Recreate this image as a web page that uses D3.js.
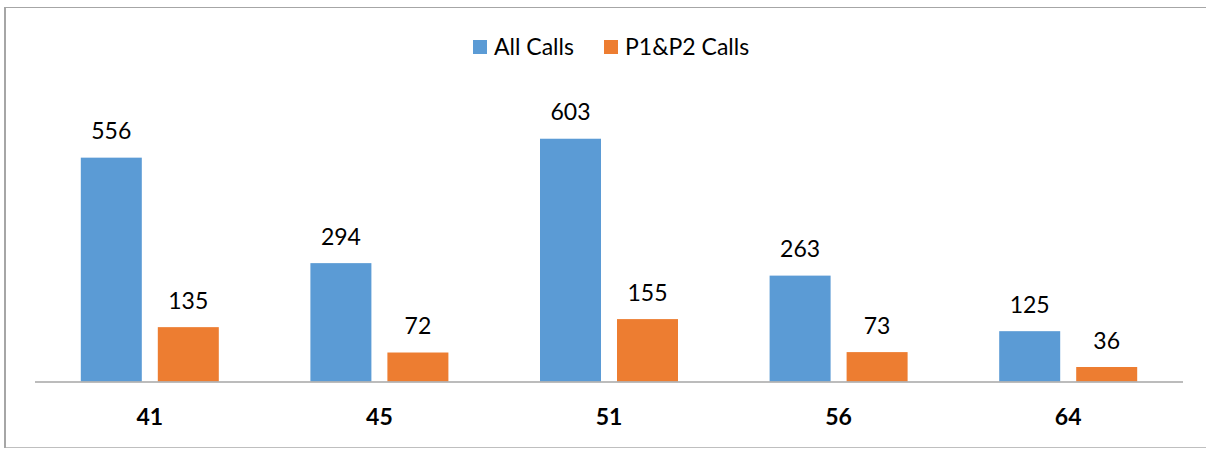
<!DOCTYPE html>
<html>
<head>
<meta charset="utf-8">
<script src="https://cdn.jsdelivr.net/npm/d3@7"></script>
<style>
  body { margin: 0; background: #fff; }
  text { font-family: Lato, "Open Sans", sans-serif; fill: #000; }
</style>
</head>
<body>
<svg id="canvas" width="1206" height="449"></svg>
<script>
// chart values
var categories = ["41", "45", "51", "56", "64"];
var seriesNames = ["All Calls", "P1&P2 Calls"];
var allCalls = [556, 294, 603, 263, 125];
var p1p2Calls = [135, 72, 155, 73, 36];
var colors = ["#5b9bd5", "#ed7d31"];

var svg = d3.select("#canvas");

// frame (right edge falls off the picture)
svg.append("line").attr("x1", 4).attr("x2", 1206).attr("y1", 7.5).attr("y2", 7.5)
  .attr("stroke", "#a6a6a6").attr("stroke-width", 1);
svg.append("line").attr("x1", 4).attr("x2", 1206).attr("y1", 447.5).attr("y2", 447.5)
  .attr("stroke", "#bfbfbf").attr("stroke-width", 1);
svg.append("line").attr("x1", 5).attr("x2", 5).attr("y1", 7).attr("y2", 448)
  .attr("stroke", "#a6a6a6").attr("stroke-width", 2);

var baseY = 381.5;
var x0 = d3.scaleBand().domain(categories).range([35, 1183]).paddingInner(0).paddingOuter(0);
var x1 = d3.scaleBand().domain(seriesNames).range([45.8, 45.8 + 138]).paddingInner(16 / 138 * 2 / (1 + 16 / 138)).paddingOuter(0);
var y = d3.scaleLinear().domain([0, 100]).range([baseY, baseY - 40.26]);

var rows = categories.map(function(c, i) {
  return { cat: c, vals: [allCalls[i], p1p2Calls[i]] };
});

var g = svg.selectAll(".grp").data(rows).enter().append("g")
  .attr("transform", function(d) { return "translate(" + x0(d.cat) + ",0)"; });

g.selectAll("rect").data(function(d) { return d.vals; }).enter().append("rect")
  .attr("x", function(d, i) { return x1(seriesNames[i]); })
  .attr("width", x1.bandwidth())
  .attr("y", function(d) { return y(d); })
  .attr("height", function(d) { return baseY - y(d); })
  .attr("fill", function(d, i) { return colors[i]; });

g.selectAll(".val").data(function(d) { return d.vals; }).enter().append("text")
  .attr("class", "val")
  .attr("x", function(d, i) { return x1(seriesNames[i]) + x1.bandwidth() / 2; })
  .attr("y", function(d) { return y(d) - 18.5; })
  .attr("text-anchor", "middle")
  .style("font-size", "23px")
  .text(function(d) { return d; });

// baseline
svg.append("line").attr("x1", 35).attr("x2", 1183).attr("y1", baseY + 0.5).attr("y2", baseY + 0.5)
  .attr("stroke", "#a6a6a6").attr("stroke-width", 1.5);

// category labels
svg.selectAll(".cat").data(categories).enter().append("text")
  .attr("x", function(d) { return x0(d) + x0.bandwidth() / 2; })
  .attr("y", 425)
  .attr("text-anchor", "middle")
  .style("font-size", "23px")
  .style("font-weight", "bold")
  .text(function(d) { return d; });

// legend
var legendX = [473, 604];
var legend = svg.selectAll(".leg").data(seriesNames).enter().append("g")
  .attr("transform", function(d, i) { return "translate(" + legendX[i] + ",40)"; });
legend.append("rect").attr("width", 14).attr("height", 14)
  .attr("fill", function(d, i) { return colors[i]; });
legend.append("text").attr("x", 21).attr("y", 14.5)
  .style("font-size", "23px")
  .text(function(d) { return d; });
</script>
</body>
</html>
